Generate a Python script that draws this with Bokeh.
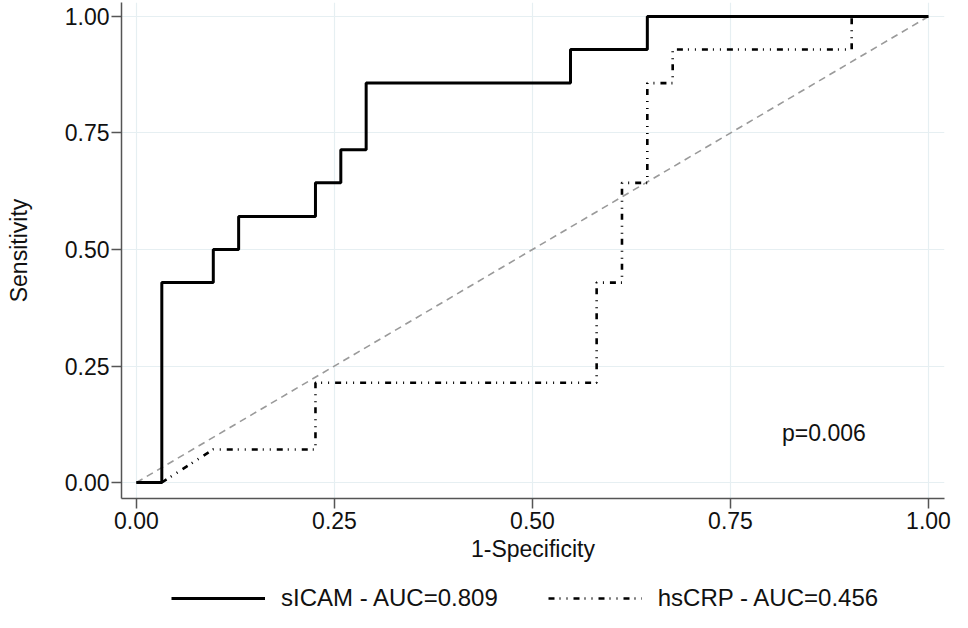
from bokeh.plotting import figure
from bokeh.layouts import column
from bokeh.models import (Range1d, FixedTicker, NumeralTickFormatter, Legend, LegendItem)
from bokeh.core.properties import value
from bokeh.embed import file_html
from bokeh.resources import INLINE

# ---- data ----
sicam_fpr = [0.0, 0.032, 0.032, 0.097, 0.097, 0.129, 0.129, 0.226, 0.226, 0.258, 0.258,
             0.290, 0.290, 0.548, 0.548, 0.645, 0.645, 1.0]
sicam_tpr = [0.0, 0.0, 0.429, 0.429, 0.500, 0.500, 0.571, 0.571, 0.643, 0.643, 0.714,
             0.714, 0.857, 0.857, 0.929, 0.929, 1.0, 1.0]

hscrp_fpr = [0.0, 0.032, 0.097, 0.226, 0.226, 0.581, 0.581, 0.613, 0.613, 0.645, 0.645,
             0.677, 0.677, 0.903, 0.903, 1.0]
hscrp_tpr = [0.0, 0.0, 0.071, 0.071, 0.214, 0.214, 0.429, 0.429, 0.643, 0.643, 0.857,
             0.857, 0.929, 0.929, 1.0, 1.0]

ref_x = [0.0, 1.0]
ref_y = [0.0, 1.0]

ticks = [0.0, 0.25, 0.5, 0.75, 1.0]
legend_labels = ["sICAM - AUC=0.809", "hsCRP - AUC=0.456"]
p_text = ["p=0.006"]
p_x = [0.868]
p_y = [0.107]

FONT = "Liberation Sans"
SICAM_STYLE = dict(line_color="black", line_width=3)
HSCRP_STYLE = dict(line_color="black", line_width=2.6, line_dash="6 5 1 6 1 6")

p = figure(width=952, height=564, x_range=Range1d(-0.0189, 1.0202),
           y_range=Range1d(-0.0343, 1.030), output_backend="svg", toolbar_location=None,
           min_border_left=121, min_border_right=8, min_border_top=2, min_border_bottom=66)
p.outline_line_color = None
p.background_fill_color = "white"

for ax in (p.xaxis[0], p.yaxis[0]):
    ax.ticker = FixedTicker(ticks=ticks)
    ax.formatter = NumeralTickFormatter(format="0.00")
    ax.minor_tick_line_color = None
    ax.major_tick_out = 10
    ax.major_tick_in = 0
    ax.axis_line_color = "#555555"
    ax.axis_line_width = 1.5
    ax.major_tick_line_color = "#555555"
    ax.major_tick_line_width = 1.5
    ax.major_label_text_font = FONT
    ax.major_label_text_font_size = "23px"
    ax.major_label_text_color = "#111111"
    ax.axis_label_text_font = FONT
    ax.axis_label_text_font_size = "23px"
    ax.axis_label_text_font_style = "normal"
    ax.axis_label_text_color = "#111111"

p.xaxis.axis_label = "1-Specificity"
p.yaxis.axis_label = "Sensitivity"
p.xaxis.major_label_standoff = 3
p.xaxis.axis_label_standoff = 4
p.yaxis.major_label_standoff = 2
p.yaxis.axis_label_standoff = 30

p.xgrid.ticker = FixedTicker(ticks=ticks)
p.ygrid.ticker = FixedTicker(ticks=ticks)
p.grid.grid_line_color = "#e6eff2"
p.grid.grid_line_width = 1.2

# reference diagonal
p.line(ref_x, ref_y, line_color="#9a9a9a", line_width=1.6, line_dash="7 5")
p.line(hscrp_fpr, hscrp_tpr, **HSCRP_STYLE)
p.line(sicam_fpr, sicam_tpr, **SICAM_STYLE)

p.text(x=p_x, y=p_y, text=p_text, text_font=value(FONT), text_font_size="23px",
       text_align="center", text_baseline="middle", text_color="#111111")

# ---- legend strip below the chart (its curves lie outside its visible range) ----
lg = figure(width=952, height=48, x_range=Range1d(0, 1), y_range=Range1d(5, 6),
            output_backend="svg", toolbar_location=None, x_axis_type=None,
            y_axis_type=None, min_border_left=0, min_border_right=0, min_border_top=0,
            min_border_bottom=0)
lg.outline_line_color = None
lg.grid.visible = False
k_s = lg.line(sicam_fpr, sicam_tpr, **SICAM_STYLE)
k_h = lg.line(hscrp_fpr, hscrp_tpr, **HSCRP_STYLE)

legend = Legend(items=[LegendItem(label=legend_labels[0], renderers=[k_s]),
                       LegendItem(label=legend_labels[1], renderers=[k_h])],
                orientation="horizontal", location=(50, 0))
legend.border_line_color = None
legend.background_fill_alpha = 0
legend.label_text_font = FONT
legend.label_text_font_size = "24px"
legend.label_text_color = "#111111"
legend.glyph_width = 94
legend.glyph_height = 20
legend.label_standoff = 16
legend.spacing = 50
legend.padding = 2
legend.margin = 0
lg.add_layout(legend, "center")

layout = column(p, lg, spacing=0)
open("out.html", "w").write(file_html(layout, INLINE))
